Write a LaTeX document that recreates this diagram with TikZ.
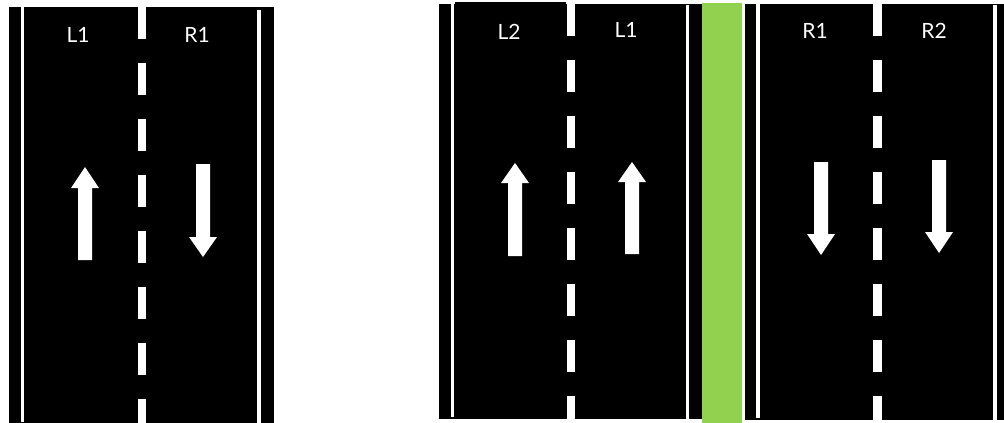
\documentclass[tikz,border=0pt]{standalone}
\usepackage{fontspec}
\setmainfont{Lato}
\definecolor{median}{HTML}{92D050}
\tikzset{
  road/.style={fill=black},
  edgeline/.style={fill=white},
  dashmark/.style={fill=white},
  lanearrow/.style={fill=white},
  lanelabel/.style={text=white, font=\fontsize{21}{21}\selectfont, inner sep=0pt, anchor=center}
}
\newcommand{\uparrowshape}[4]{% cx, tip, head base, bottom
  \fill[lanearrow] (#1,#2) -- (#1+14,#3) -- (#1+7,#3) -- (#1+7,#4) -- (#1-7,#4) -- (#1-7,#3) -- (#1-14,#3) -- cycle;}
\newcommand{\downarrowshape}[4]{% cx, top, head base, tip
  \fill[lanearrow] (#1-7,#2) -- (#1+7,#2) -- (#1+7,#3) -- (#1+14,#3) -- (#1,#4) -- (#1-14,#3) -- (#1-7,#3) -- cycle;}
\newcommand{\dashcol}[4]{% x1, x2, start, bottom
  \foreach \k in {0,...,7} {
    \pgfmathsetmacro{\ya}{#3+56*\k}
    \pgfmathsetmacro{\yb}{min(#3+56*\k+32,#4)}
    \ifdim \ya pt<#4pt \fill[dashmark] (#1,\ya) rectangle (#2,\yb); \fi
  }}
\begin{document}
\begin{tikzpicture}[x=1pt,y=-1pt]
\useasboundingbox (0,0) rectangle (1004,423);
% ---- left road ----
\fill[road] (9,7) rectangle (274,423);
\fill[edgeline] (21,7) rectangle (24,422);
\fill[edgeline] (257,10) rectangle (261,423);
\dashcol{138}{146}{7}{423}
\uparrowshape{85}{167}{188}{260}
\downarrowshape{203}{164}{237}{257}
\node[lanelabel] (la1) at (78,35) {L1};
\node[lanelabel] (ra1) at (197,35) {R1};
% ---- right road, left carriageway ----
\fill[road] (439,4) rectangle (702,419);
\fill[road] (455,2) rectangle (566,419);
\fill[edgeline] (451,4) rectangle (454,417);
\fill[edgeline] (686,5) rectangle (689,419);
\dashcol{567}{575}{4}{419}
\uparrowshape{515}{163}{183}{256}
\uparrowshape{632}{162}{182}{254}
\node[lanelabel] (lb2) at (509,32) {L2};
\node[lanelabel] (lb1) at (626,30) {L1};
% ---- median ----
\fill[median] (702,3) rectangle (742,423);
% ---- right carriageway ----
\fill[road] (745,4) rectangle (1004,420);
\fill[edgeline] (756,4) rectangle (760,418);
\fill[edgeline] (993,5) rectangle (997,420);
\dashcol{873}{882}{4}{420}
\downarrowshape{821}{162}{234}{255}
\downarrowshape{939}{160}{232}{253}
\node[lanelabel] (rb1) at (815,31) {R1};
\node[lanelabel] (rb2) at (934,31) {R2};
\end{tikzpicture}
\end{document}
